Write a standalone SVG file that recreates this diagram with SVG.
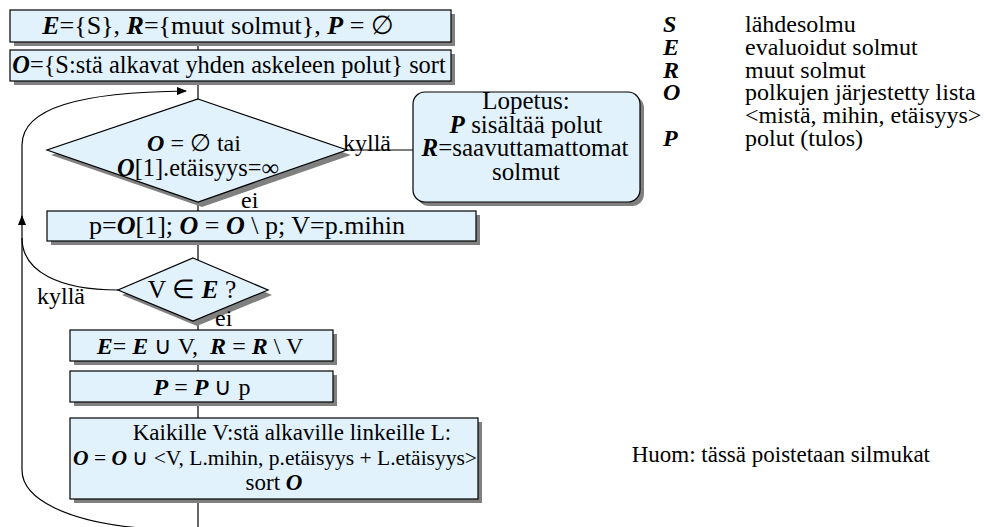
<svg xmlns="http://www.w3.org/2000/svg" width="984" height="527" viewBox="0 0 984 527">
<style>
text{font-family:"Liberation Serif","Times New Roman",serif;font-size:24px;fill:#000}
.c{text-anchor:middle}
.bi{font-weight:bold;font-style:italic}
.box{fill:#E1F2FC;stroke:#000;stroke-width:1.2}
.sh{fill:#808080}
.ln{fill:none;stroke:#000;stroke-width:1.2}
.st{font-size:25px}
</style>
<defs>
<marker id="ah" markerWidth="10" markerHeight="8" refX="9" refY="4" orient="auto" markerUnits="userSpaceOnUse">
<path d="M0,0 L10,4 L0,8 z" fill="#000"/>
</marker>
</defs>
<rect width="984" height="527" fill="#fff"/>

<g id="connectors">
<line class="ln" x1="198" y1="43" x2="198" y2="527"/>
<line class="ln" x1="347" y1="150" x2="413" y2="150"/>
<path class="ln" d="M140,528 C70,522 22,500 22,470 L22,216" marker-end="url(#ah)"/>
<path class="ln" d="M22,218 L22,145 C22,108 80,92 186,91" marker-end="url(#ah)"/>
<path class="ln" d="M118,290 C60,290 22,272 22,238"/>
</g>

<g id="n1">
<rect class="sh" x="14" y="14" width="441" height="32"/>
<rect class="box" x="10" y="10" width="441" height="32"/>
<text class="c" x="218" y="34" style="font-size:26px"><tspan class="bi">E</tspan>={S}, <tspan class="bi">R</tspan>={muut solmut}, <tspan class="bi">P</tspan> = ∅</text>
</g>

<g id="n2">
<rect class="sh" x="14" y="54" width="441" height="31"/>
<rect class="box" x="10" y="50" width="441" height="31"/>
<text class="c" x="229" y="73" style="font-size:24.4px"><tspan class="bi">O</tspan>={S:stä alkavat yhden askeleen polut} sort</text>
</g>

<g id="d1">
<polygon class="sh" points="202,104 351,155 202,207 51,155"/>
<polygon class="box" points="198,99 347,150 198,202 47,150"/>
<text class="c" x="194" y="151"><tspan class="bi">O</tspan> = ∅ tai</text>
<text class="c" x="198" y="176" style="font-size:24.4px"><tspan class="bi">O</tspan>[1].etäisyys=∞</text>
</g>
<text x="343" y="151">kyllä</text>
<text x="241" y="208">ei</text>

<g id="stop">
<rect class="sh" x="417" y="96" width="227" height="110" rx="12"/>
<rect class="box" x="413" y="92" width="227" height="110" rx="12"/>
<text class="c st" x="526" y="109">Lopetus:</text>
<text class="c st" x="526" y="133"><tspan class="bi">P</tspan> sisältää polut</text>
<text class="c st" x="525" y="156"><tspan class="bi">R</tspan>=saavuttamattomat</text>
<text class="c st" x="526" y="180">solmut</text>
</g>

<g id="n3">
<rect class="sh" x="51" y="215" width="429" height="30"/>
<rect class="box" x="47" y="211" width="429" height="30"/>
<text class="c" x="247" y="234" style="font-size:26px">p=<tspan class="bi">O</tspan>[1]; <tspan class="bi">O</tspan> = <tspan class="bi">O</tspan> \ p; V=p.mihin</text>
</g>

<g id="d2">
<polygon class="sh" points="197,263 272,295 197,326 122,295"/>
<polygon class="box" points="193,258 268,290 193,321 118,290"/>
<text class="c" x="192" y="298" style="font-size:25.5px">V ∈ <tspan class="bi">E</tspan> ?</text>
</g>
<text x="37" y="304">kyllä</text>
<text x="215" y="326">ei</text>

<g id="n4">
<rect class="sh" x="74" y="334" width="263" height="31"/>
<rect class="box" x="70" y="330" width="263" height="31"/>
<text class="c" x="200" y="354"><tspan class="bi">E</tspan>= <tspan class="bi">E</tspan> ∪ V,&#160; <tspan class="bi">R</tspan> = <tspan class="bi">R</tspan> \ V</text>
</g>

<g id="n5">
<rect class="sh" x="74" y="375" width="263" height="31"/>
<rect class="box" x="70" y="371" width="263" height="31"/>
<text class="c" x="202" y="395"><tspan class="bi">P</tspan> = <tspan class="bi">P</tspan> ∪ p</text>
</g>

<g id="n6">
<rect class="sh" x="74" y="422" width="408" height="81"/>
<rect class="box" x="70" y="418" width="408" height="81"/>
<text class="c" x="292" y="440" style="font-size:23px">Kaikille V:stä alkaville linkeille L:</text>
<text class="c" x="275" y="465" style="font-size:21.5px"><tspan class="bi">O</tspan> = <tspan class="bi">O</tspan> ∪ &lt;V, L.mihin, p.etäisyys + L.etäisyys&gt;</text>
<text class="c" x="274" y="490" style="font-size:23px">sort <tspan class="bi">O</tspan></text>
</g>

<g id="legend">
<text class="bi" x="663" y="32">S</text><text x="745" y="32">lähdesolmu</text>
<text class="bi" x="663" y="55">E</text><text x="745" y="55">evaluoidut solmut</text>
<text class="bi" x="663" y="78">R</text><text x="745" y="78">muut solmut</text>
<text class="bi" x="663" y="100">O</text><text x="745" y="100">polkujen järjestetty lista</text>
<text x="745" y="123">&lt;mistä, mihin, etäisyys&gt;</text>
<text class="bi" x="663" y="146">P</text><text x="745" y="146">polut (tulos)</text>
</g>

<text id="note" x="930" y="462" text-anchor="end" style="font-size:23px">Huom: tässä poistetaan silmukat</text>
</svg>
